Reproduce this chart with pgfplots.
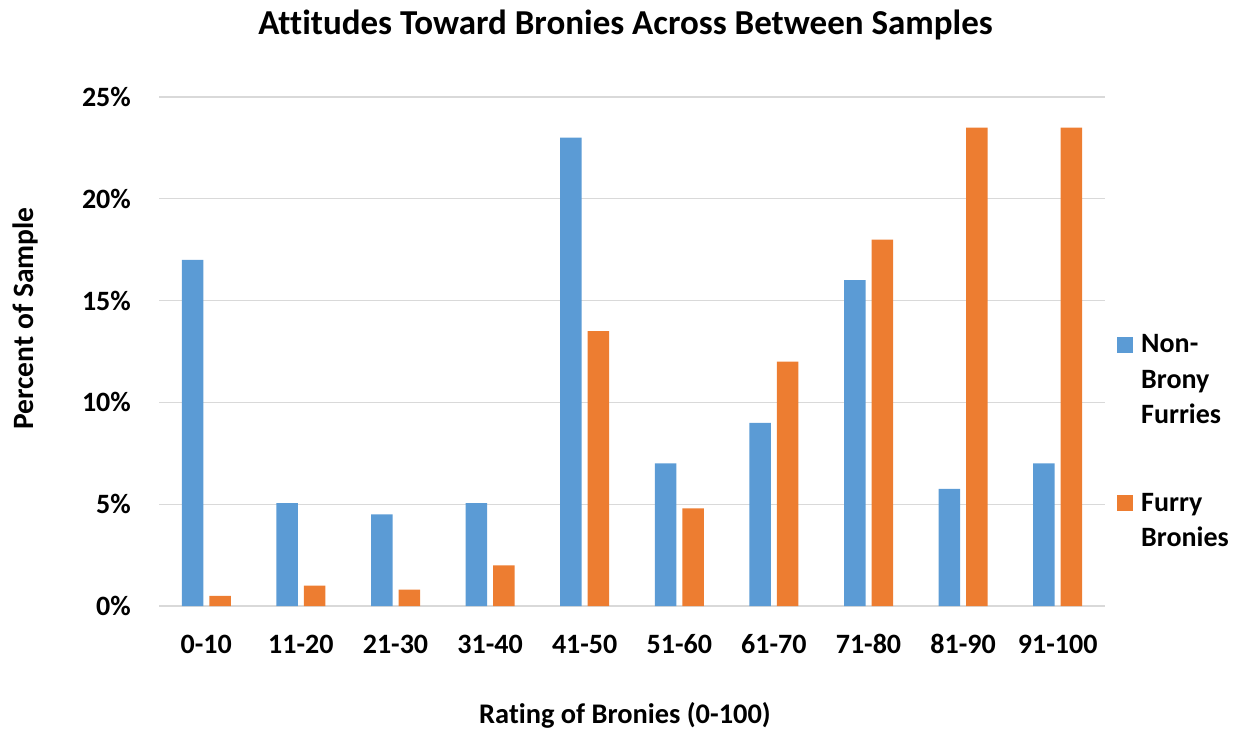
\documentclass[border=0pt]{standalone}
\usepackage{pgfplots}
\pgfplotsset{compat=1.18}
\usepackage{fontspec}
\setmainfont{Carlito}[Ligatures={NoCommon}]
\definecolor{cblue}{HTML}{5B9BD5}
\definecolor{corange}{HTML}{ED7D31}
\definecolor{cgrid}{HTML}{D9D9D9}
\begin{document}
\begin{tikzpicture}
\useasboundingbox (0,0) rectangle (1233pt,729pt);
\begin{axis}[
  at={(159pt,123pt)}, anchor=south west,
  scale only axis, width=946pt, height=509pt,
  xmin=-0.5, xmax=9.5, ymin=0, ymax=25,
  ybar=6pt, bar width=21.5pt,
  xtick={0,1,2,3,4,5,6,7,8,9},
  xticklabels={0-10,11-20,21-30,31-40,41-50,51-60,61-70,71-80,81-90,91-100},
  ytick={0,5,10,15,20,25},
  yticklabels={0\%,5\%,10\%,15\%,20\%,25\%},
  ymajorgrids, grid style={cgrid, line width=1.3pt},
  axis line style={draw=none},
  major tick length=0pt,
  tick label style={font=\fontsize{28}{32}\selectfont\bfseries, inner sep=0pt},
  xticklabel style={anchor=base, yshift=-47pt},
  yticklabel style={anchor=east, xshift=-28pt},
]
\addplot[fill=cblue, draw=none] coordinates {(0,17) (1,5.05) (2,4.5) (3,5.05) (4,23) (5,7) (6,9) (7,16) (8,5.75) (9,7)};
\addplot[fill=corange, draw=none] coordinates {(0,0.5) (1,1.0) (2,0.8) (3,2) (4,13.5) (5,4.8) (6,12) (7,18) (8,23.5) (9,23.5)};
\end{axis}
\node[anchor=base, font=\fontsize{35}{40}\selectfont\bfseries] at (625.5pt,694pt) {Attitudes Toward Bronies Across Between Samples};
\node[anchor=base, font=\fontsize{28.4}{32}\selectfont\bfseries] at (625pt,6pt) {Rating of Bronies (0-100)};
\node[anchor=base, rotate=90, font=\fontsize{29.5}{34}\selectfont\bfseries] at (33pt,410.5pt) {Percent of Sample};
% legend
\fill[cblue] (1117pt,376pt) rectangle (1133pt,392pt);
\fill[corange] (1117pt,218pt) rectangle (1133pt,234pt);
\begin{scope}[every node/.style={anchor=base west, inner sep=0pt, font=\fontsize{28}{32}\selectfont\bfseries}]
\node at (1141pt,376pt) {Non-};
\node at (1141pt,341pt) {Brony};
\node at (1141pt,306pt) {Furries};
\node at (1141pt,218pt) {Furry};
\node at (1141pt,183pt) {Bronies};
\end{scope}
\end{tikzpicture}
\end{document}
